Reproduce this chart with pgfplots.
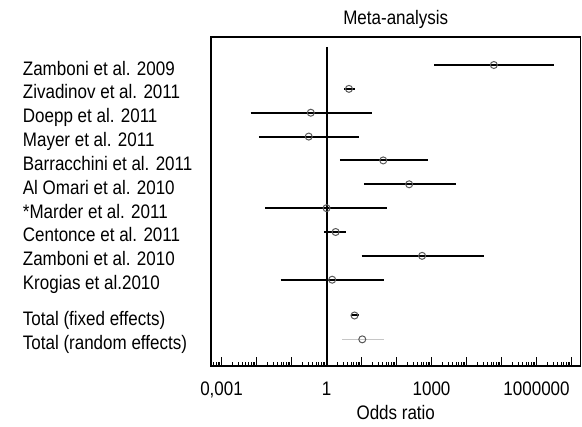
\documentclass[border=0pt]{standalone}
\usepackage{fontspec}
\setmainfont{Liberation Sans}
\usepackage{pgfplots}
\pgfplotsset{compat=1.18}
\begin{document}
\begin{tikzpicture}[font=\fontsize{17}{20}\selectfont]
\path[use as bounding box] (-211pt,-61pt) rectangle (371pt,366pt);
\begin{axis}[
  at={(0pt,0pt)}, anchor=south west,
  scale only axis, width=369.5pt, height=329pt,
  xmode=log, xmin=5.0e-4, xmax=1.8e7,
  ymin=-0.174, ymax=13.617, y dir=reverse,
  ytick={1,2,3,4,5,6,7,8,9,10,11.5,12.5},
  yticklabels={Zamboni et al. 2009, Zivadinov et al. 2011, Doepp et al. 2011, Mayer et al. 2011, Barracchini et al. 2011, Al Omari et al. 2010, *Marder et al. 2011, Centonce et al. 2011, Zamboni et al. 2010, Krogias et al.2010, Total (fixed effects), Total (random effects)},
  yticklabel style={anchor=base west, inner sep=0pt, xshift=-188.3pt, yshift=-10pt, yscale=1.15, transform shape},
  ytick style={draw=none},
  xtick={1e-3,1e-2,1e-1,1,10,100,1000,1e4,1e5,1e6,1e7},
  xticklabels={{0,001},,,{1},,,{1000},,,{1000000},},
  minor xtick={6e-4,7e-4,8e-4,9e-4,
    2e-3,3e-3,4e-3,5e-3,6e-3,7e-3,8e-3,9e-3,
    2e-2,3e-2,4e-2,5e-2,6e-2,7e-2,8e-2,9e-2,
    2e-1,3e-1,4e-1,5e-1,6e-1,7e-1,8e-1,9e-1,
    2,3,4,5,6,7,8,9,
    20,30,40,50,60,70,80,90,
    200,300,400,500,600,700,800,900,
    2e3,3e3,4e3,5e3,6e3,7e3,8e3,9e3,
    2e4,3e4,4e4,5e4,6e4,7e4,8e4,9e4,
    2e5,3e5,4e5,5e5,6e5,7e5,8e5,9e5,
    2e6,3e6,4e6,5e6,6e6,7e6,8e6,9e6},
  xtick pos=bottom, tick align=inside,
  major tick length=9pt, minor tick length=4pt,
  every tick/.style={black, line width=1pt},
  xticklabel style={anchor=base, inner sep=0pt, yshift=-30pt, yscale=1.15, transform shape},
  axis line style={line width=1.4pt},
  title={Meta-analysis},
  title style={at={(axis description cs:0.5,1)}, anchor=base, inner sep=0pt, yshift=6pt, yscale=1.15, transform shape},
  xlabel={Odds ratio},
  xlabel style={at={(axis description cs:0.5,0)}, anchor=base, inner sep=0pt, yshift=-54pt, yscale=1.15, transform shape},
]
% line of no effect
\addplot[black, line width=2pt] coordinates {(1,0.245) (1,13.617)};
% confidence intervals
\addplot[black, line width=2pt, unbounded coords=jump] table {
x y
1175 1
3.16e6 1
nan nan
3.16 2
6.46 2
nan nan
0.0068 3
20 3
nan nan
0.0117 4
8.5 4
nan nan
2.4 5
813 5
nan nan
11.7 6
4900 6
nan nan
0.018 7
55 7
nan nan
0.85 8
3.7 8
nan nan
10 9
31600 9
nan nan
0.049 10
44.7 10
nan nan
4.9 11.5
8.5 11.5
};
\addplot[gray!45, line width=1pt] coordinates {(2.8,12.5) (44.7,12.5)};
% point estimates
\addplot[only marks, mark=o, mark size=3.5pt, mark options={draw=gray!70!black, line width=1pt}] table {
x y
60256 1
4.37 2
0.355 3
0.31 4
41.7 5
229 6
1.0 7
1.82 8
537 9
1.45 10
6.3 11.5
10.5 12.5
};
\end{axis}
\end{tikzpicture}
\end{document}
